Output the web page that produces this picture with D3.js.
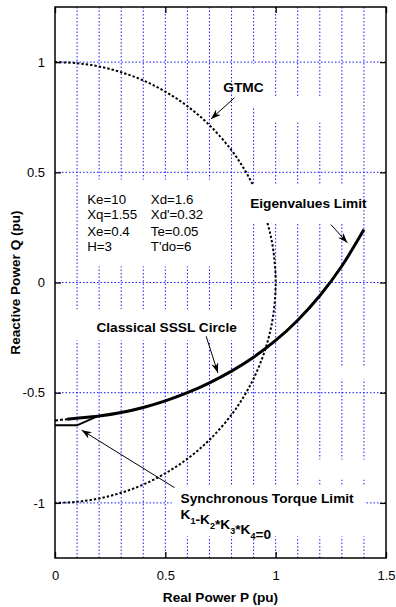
<!DOCTYPE html>
<html>
<head>
<meta charset="utf-8">
<script src="https://cdn.jsdelivr.net/npm/d3@7"></script>
<style>
  body { margin: 0; background: #fff; }
  svg { display: block; }
  text { font-family: "Liberation Sans", Arial, Helvetica, sans-serif; fill: #000; }
</style>
</head>
<body>
<svg id="chart" width="396" height="607"></svg>
<script>
// ---- Data (P = real power, Q = reactive power, both in pu) ----
const pTicks = [0, 0.5, 1, 1.5];
const qTicks = [1, 0.5, 0, -0.5, -1];
const pGrid = [0.1, 0.2, 0.3, 0.4, 0.5, 0.6, 0.7, 0.8, 0.9, 1.0, 1.1, 1.2, 1.3, 1.4];

// Generator thermal/capability limit curve (GTMC)
const gtmcP = [0, 0.1, 0.2, 0.3, 0.4, 0.5, 0.6, 0.7, 0.8, 0.86, 0.9, 0.94, 0.97, 0.99, 1.0,
               0.99, 0.97, 0.94, 0.9, 0.86, 0.8, 0.7, 0.6, 0.5, 0.4, 0.3, 0.2, 0.1, 0];
const gtmcQ = [1.0, 0.995, 0.98, 0.954, 0.917, 0.866, 0.80, 0.714, 0.60, 0.51, 0.436, 0.341, 0.243, 0.141, 0,
               -0.141, -0.243, -0.341, -0.436, -0.51, -0.60, -0.714, -0.80, -0.866, -0.917, -0.954, -0.98, -0.995, -1.0];

// Classical steady-state stability limit / eigenvalue limit
const ssslP = [0.055, 0.1, 0.2, 0.3, 0.4, 0.5, 0.6, 0.7, 0.8, 0.9, 1.0, 1.1, 1.2, 1.3, 1.4];
const ssslQ = [-0.620, -0.616, -0.606, -0.590, -0.567, -0.537, -0.500, -0.455, -0.402, -0.339, -0.263, -0.171, -0.060, 0.075, 0.240];
// short dashed lead-in of the same curve at P = 0
const leadP = [0, 0.055];
const leadQ = [-0.626, -0.620];

// Synchronous torque limit K1 - K2*K3*K4 = 0
const torqueP = [0, 0.1, 0.181];
const torqueQ = [-0.648, -0.648, -0.612];

// Machine parameters shown in the plot
const paramCol1 = ["Ke=10", "Xq=1.55", "Xe=0.4", "H=3"];
const paramCol2 = ["Xd=1.6", "Xd'=0.32", "Te=0.05", "T'do=6"];

// ---- Layout ----
const svg = d3.select("#chart");
const x = d3.scaleLinear().domain([0, 1.5]).range([55, 386]);
const y = d3.scaleLinear().domain([-1.25, 1.25]).range([558, 7]);
const zip = (ps, qs) => ps.map((p, i) => [p, qs[i]]);
const plainNum = d => String(d);

const gridColor = "#1a1aff";

// Grid
const grid = svg.append("g");
grid.selectAll("line.v").data(pGrid).join("line")
  .attr("x1", d => x(d)).attr("x2", d => x(d))
  .attr("y1", y(-1.25)).attr("y2", y(1.25))
  .attr("stroke", gridColor).attr("stroke-width", 1).attr("stroke-dasharray", "1.5,2");
grid.selectAll("line.h").data(qTicks).join("line")
  .attr("x1", x(0)).attr("x2", x(1.5))
  .attr("y1", d => y(d)).attr("y2", d => y(d))
  .attr("stroke", gridColor).attr("stroke-width", 1).attr("stroke-dasharray", "1.5,2");

// Curves
const smooth = d3.line().x(d => x(d[0])).y(d => y(d[1])).curve(d3.curveCatmullRom.alpha(0.5));
const straight = d3.line().x(d => x(d[0])).y(d => y(d[1]));

svg.append("path").datum(zip(gtmcP, gtmcQ))
  .attr("d", smooth).attr("fill", "none")
  .attr("stroke", "#000").attr("stroke-width", 2).attr("stroke-dasharray", "2.4,2");

svg.append("path").datum(zip(torqueP, torqueQ))
  .attr("d", straight)
  .attr("fill", "none").attr("stroke", "#000").attr("stroke-width", 2);

svg.append("path").datum(zip(leadP, leadQ))
  .attr("d", straight)
  .attr("fill", "none").attr("stroke", "#000").attr("stroke-width", 2).attr("stroke-dasharray", "3,2");

svg.append("path").datum(zip(ssslP, ssslQ))
  .attr("d", smooth).attr("fill", "none")
  .attr("stroke", "#000").attr("stroke-width", 3).attr("stroke-linejoin", "round");

// Label background panels (in P/Q units: p0, p1, q0, q1)
const panels = [
  [0.818, 0.949, 0.993, 0.798],   // GTMC
  [0.949, 1.243, 0.839, 0.726],
  [0.113, 0.746, 0.467, 0.073],   // parameter block
  [0.068, 0.881, -0.122, -0.263], // Classical SSSL Circle
  [0.859, 1.378, 0.444, 0.272],   // Eigenvalues Limit
  [1.265, 1.423, -0.381, -0.44],
  [1.16, 1.41, -0.803, -0.894],
  [0.529, 1.41, -0.921, -1.152]   // Synchronous Torque Limit
];
svg.append("g").selectAll("rect").data(panels).join("rect")
  .attr("x", d => x(d[0])).attr("width", d => x(d[1]) - x(d[0]))
  .attr("y", d => y(d[2])).attr("height", d => y(d[3]) - y(d[2]))
  .attr("fill", "#fff");

// Axes box with inward ticks
const axes = svg.append("g");
axes.append("g").attr("transform", `translate(${x(0)},0)`)
  .call(d3.axisLeft(y).tickValues(qTicks).tickSizeInner(-6).tickSizeOuter(0).tickPadding(10)
        .tickFormat(plainNum))
  .call(g => g.select(".domain").remove())
  .call(g => g.selectAll("text").attr("font-size", 13));
axes.append("g").attr("transform", `translate(${x(1.5)},0)`)
  .call(d3.axisRight(y).tickValues(qTicks).tickSizeInner(-6).tickSizeOuter(0).tickFormat(""))
  .call(g => g.select(".domain").remove());
axes.append("g").attr("transform", `translate(0,${y(-1.25)})`)
  .call(d3.axisBottom(x).tickValues(pTicks).tickSizeInner(-6).tickSizeOuter(0).tickPadding(13)
        .tickFormat(plainNum))
  .call(g => g.select(".domain").remove())
  .call(g => g.selectAll("text").attr("font-size", 13));
axes.append("g").attr("transform", `translate(0,${y(1.25)})`)
  .call(d3.axisTop(x).tickValues(pTicks).tickSizeInner(-6).tickSizeOuter(0).tickFormat(""))
  .call(g => g.select(".domain").remove());
axes.selectAll(".tick line").attr("stroke", "#000").attr("stroke-width", 1.3);
axes.append("rect")
  .attr("x", x(0)).attr("y", y(1.25))
  .attr("width", x(1.5) - x(0)).attr("height", y(-1.25) - y(1.25))
  .attr("fill", "none").attr("stroke", "#000").attr("stroke-width", 1.5);

// Axis titles
svg.append("text").attr("x", (x(0) + x(1.5)) / 2).attr("y", 602)
  .attr("text-anchor", "middle").attr("font-size", 13.6).attr("font-weight", "bold")
  .text("Real Power P (pu)");
svg.append("text").attr("transform", `translate(19.5,${(y(1.25) + y(-1.25)) / 2}) rotate(-90)`)
  .attr("text-anchor", "middle").attr("font-size", 13.6).attr("font-weight", "bold")
  .text("Reactive Power Q (pu)");

// Parameter block
const rowQ = [0.358, 0.286, 0.213, 0.141];
const params = svg.append("g").attr("font-size", 13.3);
params.selectAll("text.c1").data(paramCol1).join("text")
  .attr("x", x(0.146)).attr("y", (d, i) => y(rowQ[i])).text(d => d);
params.selectAll("text.c2").data(paramCol2).join("text")
  .attr("x", x(0.434)).attr("y", (d, i) => y(rowQ[i])).text(d => d);

// Annotation arrows
const defs = svg.append("defs");
defs.append("marker").attr("id", "head")
  .attr("viewBox", "-11 -5 12 10").attr("refX", 0).attr("refY", 0)
  .attr("markerWidth", 12).attr("markerHeight", 10).attr("markerUnits", "userSpaceOnUse")
  .attr("orient", "auto")
  .append("path").attr("d", "M0,0 L-10,-3.6 L-7,0 L-10,3.6 Z").attr("fill", "#000");

const arrows = [
  [0.813, 0.838, 0.707, 0.742],
  [1.25, 0.263, 1.325, 0.18],
  [0.685, -0.244, 0.738, -0.41],
  [0.542, -0.931, 0.121, -0.67]
];
svg.append("g").selectAll("line").data(arrows).join("line")
  .attr("x1", d => x(d[0])).attr("y1", d => y(d[1]))
  .attr("x2", d => x(d[2])).attr("y2", d => y(d[3]))
  .attr("stroke", "#000").attr("stroke-width", 1).attr("marker-end", "url(#head)");

// Curve labels
const labels = [
  { text: "GTMC", p: 0.854, q: 0.866, anchor: "middle" },
  { text: "Eigenvalues Limit", p: 1.148, q: 0.34, anchor: "middle" },
  { text: "Classical SSSL Circle", p: 0.506, q: -0.225, anchor: "middle" },
  { text: "Synchronous Torque Limit", p: 0.569, q: -1.0, anchor: "start" }
];
svg.append("g").selectAll("text").data(labels).join("text")
  .attr("x", d => x(d.p)).attr("y", d => y(d.q))
  .attr("text-anchor", d => d.anchor)
  .attr("font-size", 13.7).attr("font-weight", "bold")
  .text(d => d.text);

// K1-K2*K3*K4=0 with subscripts
const eq = svg.append("text").attr("x", x(0.569)).attr("y", y(-1.075))
  .attr("font-size", 13.7).attr("font-weight", "bold");
const eqParts = [["K", "1"], ["-K", "2"], ["*K", "3"], ["*K", "4"], ["=0", null]];
eqParts.forEach(([main, sub]) => {
  eq.append("tspan").text(main);
  if (sub) {
    eq.append("tspan").attr("dy", 5).attr("font-size", 9).text(sub);
    eq.append("tspan").attr("dy", -5).text("");
  }
});
</script>
</body>
</html>
